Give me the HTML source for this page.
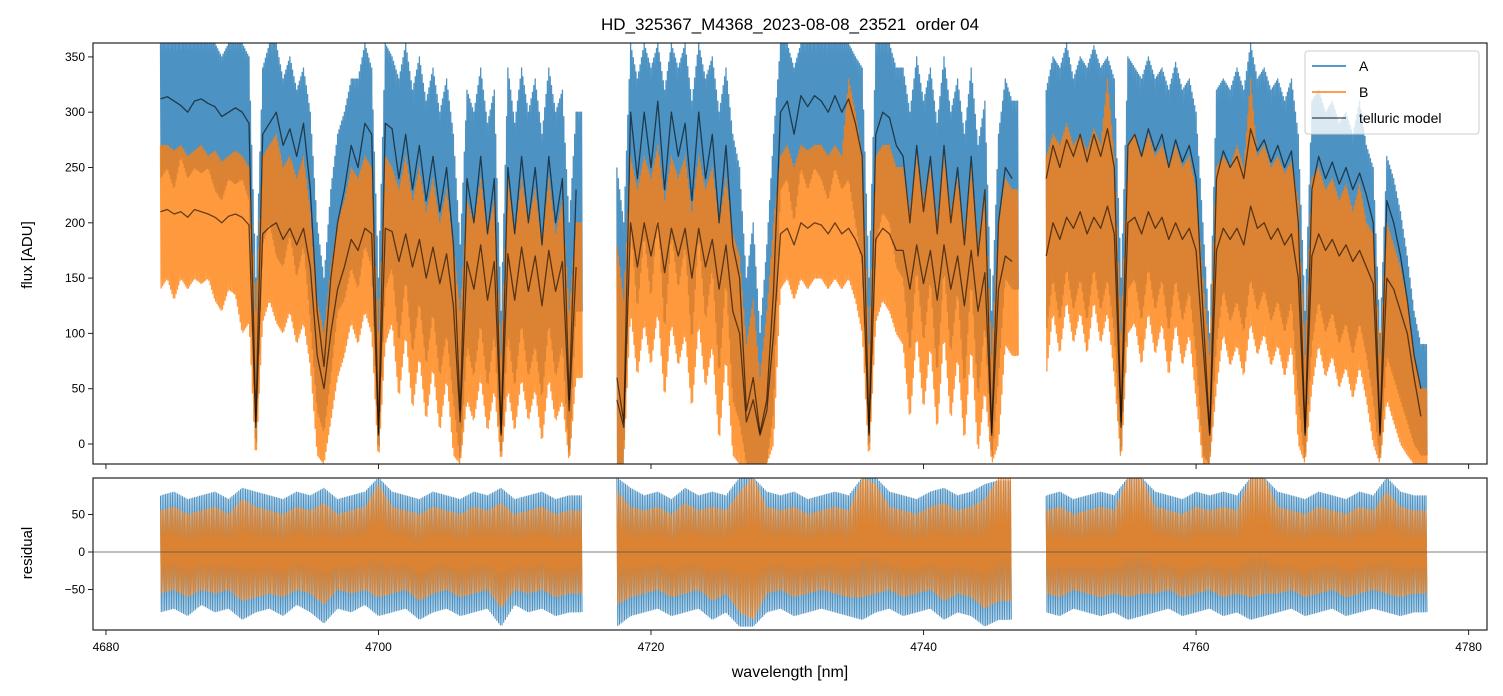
<!DOCTYPE html>
<html><head><meta charset="utf-8">
<style>
html,body{margin:0;padding:0;background:#fff;}
svg{display:block;font-family:"Liberation Sans","DejaVu Sans",sans-serif;}
</style></head>
<body>
<svg id="chart" width="1503" height="696" viewBox="0 0 1503 696" xmlns="http://www.w3.org/2000/svg">
<defs>
<clipPath id="clipTop"><rect x="93" y="43" width="1394" height="421"/></clipPath>
<clipPath id="clipBot"><rect x="93" y="478" width="1394" height="152"/></clipPath>
</defs>
<rect width="1503" height="696" fill="#fff"/>
<text x="790" y="30" font-size="17" text-anchor="middle" style="white-space:pre" xml:space="preserve">HD_325367_M4368_2023-08-08_23521  order 04</text>
<g id="topPanel"></g>
<g id="botPanel"></g>
<text transform="translate(32,255) rotate(-90)" font-size="15" text-anchor="middle">flux [ADU]</text>
<text transform="translate(32,553) rotate(-90)" font-size="15" text-anchor="middle">residual</text>
<text x="790" y="677" font-size="16" text-anchor="middle">wavelength [nm]</text>
<g>
<rect x="1305" y="51" width="174" height="83" rx="3" fill="#fff" fill-opacity="0.8" stroke="#ccc"/>
<g><line x1="1312" y1="66" x2="1346" y2="66" stroke="#1f77b4" stroke-width="1.5"/><text x="1359" y="71" font-size="14">A</text></g>
<g><line x1="1312" y1="92" x2="1346" y2="92" stroke="#ff7f0e" stroke-width="1.5"/><text x="1359" y="97" font-size="14">B</text></g>
<g><line x1="1312" y1="118" x2="1346" y2="118" stroke="#000" stroke-opacity="0.6" stroke-width="1.5"/><text x="1359" y="123" font-size="14">telluric model</text></g>
</g>
</svg>
<script>
const segStarts=[4684.0,4717.5,4749.0];
const binStep=0.5;
const modelA=[
[312,314,310,306,300,310,312,308,305,296,300,304,300,290,20,280,290,300,270,285,260,290,230,120,70,150,200,230,270,250,290,280,10,290,285,240,280,230,270,220,260,210,250,180,30,240,200,260,190,240,10,250,190,260,200,250,180,260,200,240,40,230],
[60,20,300,240,300,250,310,230,300,260,290,220,300,240,280,200,270,180,150,30,60,10,40,140,300,310,280,315,305,315,310,300,315,300,312,290,260,10,280,300,295,270,260,200,270,210,260,190,270,200,250,180,260,170,230,10,200,250,240],
[240,270,250,275,260,280,255,280,260,285,250,20,270,280,260,285,265,280,250,275,255,270,240,120,10,240,265,250,260,240,285,265,275,255,270,250,265,200,10,230,260,240,255,235,250,230,245,225,200,10,220,200,170,130,80,50]];
const modelB=[
[210,212,208,210,205,212,210,208,205,200,206,208,205,198,15,190,196,200,185,195,180,195,160,80,50,100,140,160,185,175,195,190,8,195,192,165,190,160,185,150,178,145,172,125,20,165,140,180,130,165,8,172,130,178,138,170,125,175,138,165,30,160],
[40,15,200,160,200,170,200,155,195,170,195,150,195,160,185,140,180,120,100,20,40,8,30,100,190,195,180,200,195,200,198,190,200,190,195,185,170,8,185,195,190,175,175,140,180,145,175,130,180,140,170,125,175,120,155,8,140,170,165],
[170,200,185,205,195,210,190,205,195,215,190,15,200,205,190,210,195,205,185,200,185,195,175,90,8,175,195,185,195,180,215,195,200,185,195,180,190,150,8,170,190,175,185,170,180,165,175,160,145,8,150,140,120,100,60,25]];
const aHigh=[
[362,362,362,362,362,362,362,362,362,350,362,362,362,350,150,340,362,362,330,350,320,340,300,200,150,230,280,300,330,330,362,340,150,362,350,330,362,320,350,310,340,300,330,280,180,320,300,340,290,320,120,340,290,340,300,330,280,340,300,320,200,300],
[250,200,362,330,362,340,362,320,362,340,362,310,362,330,350,300,340,280,250,150,200,100,180,280,362,362,340,362,362,362,362,362,362,362,362,350,340,150,362,362,362,340,340,300,350,310,340,290,350,300,330,280,340,270,310,120,280,330,310],
[320,350,340,362,330,350,340,360,340,350,330,150,350,340,330,350,330,340,320,345,320,330,300,200,100,320,330,320,340,320,362,330,340,320,330,310,330,280,120,310,320,300,310,290,300,280,310,270,250,100,260,240,210,170,120,90]];
const aLow=[
[240,250,230,260,240,250,245,250,230,220,240,235,240,220,-18,180,200,170,160,190,150,180,110,30,10,60,120,130,160,140,180,160,-18,140,160,90,150,80,130,70,120,60,100,40,-18,90,60,110,50,100,-18,100,50,110,60,90,40,110,60,90,-18,120],
[-18,-18,200,120,190,130,210,100,190,140,180,90,190,110,160,60,150,40,20,-18,-18,-18,-18,30,230,240,200,250,230,250,240,220,250,230,240,200,160,-18,180,210,200,160,150,80,160,90,150,60,160,80,140,50,150,40,110,-18,60,150,140],
[100,150,110,160,120,150,110,160,120,150,100,-18,140,150,110,160,120,150,100,150,110,140,80,-10,-18,90,140,110,130,100,150,120,140,110,130,100,130,40,-18,90,130,100,120,90,110,80,110,80,40,-18,80,60,40,20,0,-10]];
const bHigh=[
[270,270,265,270,260,265,270,260,265,255,260,265,260,250,120,260,270,280,250,260,240,260,210,130,100,160,200,220,250,240,260,250,100,260,250,230,260,220,250,210,240,200,230,180,120,220,200,240,190,220,80,240,190,240,200,230,180,240,190,220,120,200],
[180,130,260,230,260,240,270,220,260,240,260,210,260,230,250,200,240,190,170,90,130,60,120,200,260,270,250,270,265,270,270,260,270,260,330,300,260,90,260,270,270,250,250,210,260,220,250,200,260,210,240,190,250,180,230,80,200,240,230],
[260,280,270,290,270,280,265,285,270,330,260,100,270,280,260,280,260,270,250,270,250,260,230,150,80,250,260,250,270,250,330,260,270,250,260,245,255,220,80,240,250,230,240,220,235,210,235,200,190,80,200,180,160,130,80,50]];
const bLow=[
[140,150,130,150,140,150,145,150,130,120,140,135,100,110,-18,110,130,110,100,120,90,110,70,-10,-18,20,60,80,110,90,120,100,-18,90,110,40,100,30,80,20,70,10,60,-10,-18,40,20,60,10,50,-18,50,10,60,20,50,0,60,20,40,-18,60],
[-18,-18,120,60,110,70,120,40,110,70,100,30,110,50,90,0,80,-10,-18,-18,-18,-18,-18,0,140,150,130,150,140,150,150,140,150,140,150,130,100,-18,110,130,120,100,90,20,100,30,90,10,100,20,80,0,90,-10,50,-18,0,90,80],
[60,120,80,130,90,120,80,130,90,120,60,-18,100,110,70,120,80,110,60,110,70,100,40,-18,-18,50,100,70,90,60,110,80,100,70,90,60,90,0,-18,50,90,60,80,50,70,40,70,40,0,-18,40,20,0,-10,-18,-18]];
const resStarts=[4684,4717.5,4749];
const resStep=1.0;
const resAHigh=[
[75,80,70,75,80,70,85,80,75,70,80,75,85,70,75,80,99,80,75,70,80,75,70,80,75,85,70,75,80,70,75],
[99,85,75,80,70,85,75,80,75,99,99,80,75,80,70,75,80,75,99,99,80,75,70,80,85,75,80,90,95],
[75,80,70,75,80,75,99,99,80,75,70,80,75,80,75,99,99,80,75,70,80,75,70,80,75,99,80,75]];
const resALow=[
[-80,-75,-85,-70,-80,-75,-90,-80,-75,-85,-70,-80,-95,-75,-80,-70,-85,-80,-75,-90,-80,-75,-85,-80,-75,-99,-70,-80,-75,-85,-80],
[-99,-85,-80,-75,-85,-80,-75,-90,-80,-99,-99,-80,-75,-85,-80,-75,-80,-85,-90,-80,-75,-85,-80,-75,-90,-80,-85,-99,-90],
[-80,-85,-75,-80,-85,-80,-90,-85,-80,-75,-85,-80,-75,-85,-80,-90,-85,-80,-75,-85,-80,-75,-85,-80,-75,-80,-85,-80]];
const resBHigh=[
[55,60,50,55,60,50,70,60,55,50,60,55,65,50,55,60,90,60,55,50,60,55,50,60,55,65,50,55,60,50,55],
[80,60,55,60,50,65,55,60,55,80,99,60,55,60,50,55,60,55,99,90,60,55,50,60,65,55,60,70,99],
[55,60,50,55,60,55,99,99,60,55,50,60,55,60,55,99,99,60,55,50,60,55,50,60,55,80,60,55]];
const resBLow=[
[-55,-50,-60,-50,-55,-50,-65,-60,-55,-60,-50,-55,-70,-50,-55,-50,-60,-55,-50,-65,-55,-50,-60,-55,-50,-75,-50,-55,-50,-60,-55],
[-70,-60,-55,-50,-60,-55,-50,-65,-55,-80,-90,-55,-50,-60,-55,-50,-55,-60,-60,-55,-50,-60,-55,-50,-65,-55,-60,-75,-65],
[-55,-60,-50,-55,-60,-55,-60,-55,-55,-50,-60,-55,-50,-60,-55,-60,-55,-55,-50,-60,-55,-50,-60,-55,-50,-55,-60,-55]];
const xTicks=[4680,4700,4720,4740,4760,4780];
const yTicks=[0,50,100,150,200,250,300,350];
const resTicks=[-50,0,50];

const NS="http://www.w3.org/2000/svg";
const X0=93,X1=1487,XMIN=4679.05,XMAX=4781.35;
const xs=v=>X0+(v-XMIN)/(XMAX-XMIN)*(X1-X0);
const yTop=v=>444-v*1.106;
const yBot=v=>552-v*0.75;
function mk(tag,attrs,parent){const e=document.createElementNS(NS,tag);for(const k in attrs)e.setAttribute(k,attrs[k]);parent.appendChild(e);return e;}
const topG=document.getElementById('topPanel'),botG=document.getElementById('botPanel');

function zigzag(starts,step,hi,lo,ys,sub){
  const segs=[];
  for(let s=0;s<starts.length;s++){
    const pts=[];const n=hi[s].length;
    for(let i=0;i<n;i++){
      const h2=i+1<n?hi[s][i+1]:hi[s][i], l2=i+1<n?lo[s][i+1]:lo[s][i];
      for(let k=0;k<sub;k++){
        const f=k/sub;const w=starts[s]+(i+f)*step;
        const v=(k%2===0)?hi[s][i]*(1-f)+h2*f:lo[s][i]*(1-f)+l2*f;
        pts.push(xs(w).toFixed(1)+','+ys(v).toFixed(1));
      }
    }
    segs.push(pts.join(' '));
  }
  return segs;
}
function drawSeries(parent,clip,segs,color,op,sw,name){
  const g=mk('g',{'clip-path':'url(#'+clip+')'},parent);
  
  
  segs.forEach(p=>{const l=mk('polyline',{points:p,fill:'none',stroke:color,'stroke-opacity':op,'stroke-width':sw,'stroke-linejoin':'round'},g);
    
    });
}
function modelSegs(arr){
  return arr.map((a,s)=>a.map((v,i)=>xs(segStarts[s]+i*binStep).toFixed(1)+','+yTop(v).toFixed(1)).join(' '));
}
drawSeries(topG,'clipTop',zigzag(segStarts,binStep,aHigh,aLow,yTop,10),'#1f77b4',0.8,1.3,'series-a');
drawSeries(topG,'clipTop',zigzag(segStarts,binStep,bHigh,bLow,yTop,10),'#ff7f0e',0.8,1.3,'series-b');
drawSeries(topG,'clipTop',modelSegs(modelA),'#000',0.6,1.3,'telluric-model-a');
drawSeries(topG,'clipTop',modelSegs(modelB),'#000',0.6,1.3,'telluric-model-b');
drawSeries(botG,'clipBot',zigzag(resStarts,resStep,resAHigh,resALow,yBot,16),'#1f77b4',0.8,1.1,'residual-a');
drawSeries(botG,'clipBot',zigzag(resStarts,resStep,resBHigh,resBLow,yBot,16),'#ff7f0e',0.8,1.1,'residual-b');
const zl=mk('line',{x1:X0,x2:X1,y1:yBot(0),y2:yBot(0),stroke:'#555','stroke-width':0.7},botG);



const f1=mk('rect',{x:X0,y:43,width:X1-X0,height:421,fill:'none',stroke:'#222','stroke-width':1.2},topG);


const f2=mk('rect',{x:X0,y:478,width:X1-X0,height:152,fill:'none',stroke:'#222','stroke-width':1.2},botG);


xTicks.forEach(t=>{
  const x=xs(t);
  mk('line',{x1:x,x2:x,y1:464,y2:469,stroke:'#222','stroke-width':1},topG);
  mk('line',{x1:x,x2:x,y1:630,y2:635,stroke:'#222','stroke-width':1},botG);
  const tx=mk('text',{x:x,y:651,'font-size':12,'text-anchor':'middle'},botG);tx.textContent=t;
  
  
});
yTicks.forEach(t=>{
  const y=yTop(t);
  mk('line',{x1:88,x2:93,y1:y,y2:y,stroke:'#222','stroke-width':1},topG);
  const tx=mk('text',{x:85,y:y+4,'font-size':12,'text-anchor':'end'},topG);tx.textContent=t;
  
  
});
resTicks.forEach(t=>{
  const y=yBot(t);
  mk('line',{x1:88,x2:93,y1:y,y2:y,stroke:'#222','stroke-width':1},botG);
  const tx=mk('text',{x:85,y:y+4,'font-size':12,'text-anchor':'end'},botG);tx.textContent=(t<0?'\u2212'+(-t):t);
  
  
});
</script>
</body></html>
